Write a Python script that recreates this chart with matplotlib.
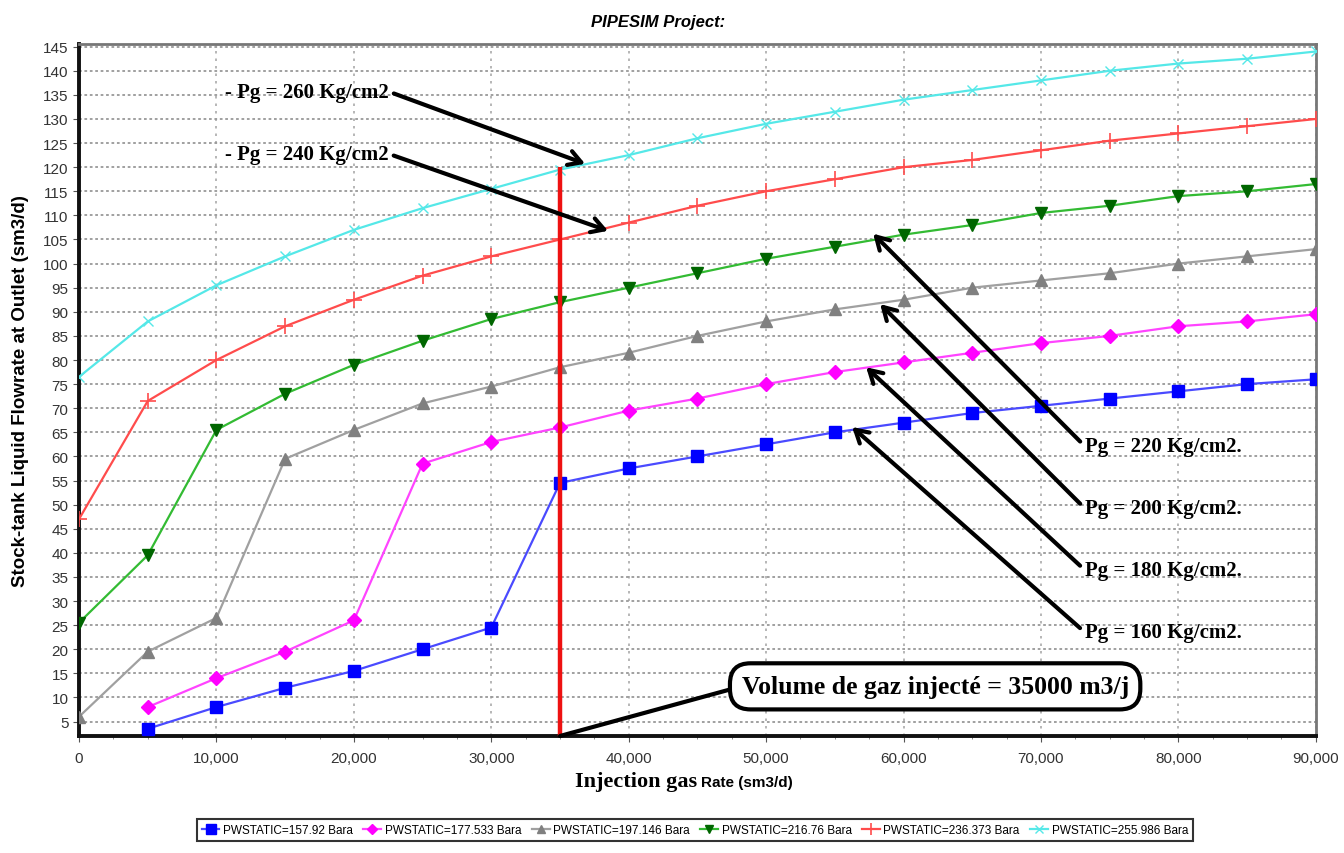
import numpy as np
import matplotlib.pyplot as plt
from matplotlib.ticker import MultipleLocator, FuncFormatter

# injection gas rate (sm3/d)
gas_rate = [0, 5000, 10000, 15000, 20000, 25000, 30000, 35000, 40000, 45000,
            50000, 55000, 60000, 65000, 70000, 75000, 80000, 85000, 90000]

# liquid flowrate (sm3/d) per static pressure, None = no point
q_158 = [None, 3.5, 8, 12, 15.5, 20, 24.5, 54.5, 57.5, 60, 62.5, 65, 67, 69, 70.5, 72, 73.5, 75, 76]
q_178 = [None, 8, 14, 19.5, 26, 58.5, 63, 66, 69.5, 72, 75, 77.5, 79.5, 81.5, 83.5, 85, 87, 88, 89.5]
q_197 = [6, 19.5, 26.5, 59.5, 65.5, 71, 74.5, 78.5, 81.5, 85, 88, 90.5, 92.5, 95, 96.5, 98, 100, 101.5, 103]
q_217 = [25.5, 39.5, 65.5, 73, 79, 84, 88.5, 92, 95, 98, 101, 103.5, 106, 108, 110.5, 112, 114, 115, 116.5]
q_236 = [47, 71.5, 80, 87, 92.5, 97.5, 101.5, 105, 108.5, 112, 115, 117.5, 120, 121.5, 123.5, 125.5, 127, 128.5, 130]
q_256 = [76.5, 88, 95.5, 101.5, 107, 111.5, 115.5, 119.5, 122.5, 126, 129, 131.5, 134, 136, 138, 140, 141.5, 142.5, 144]

labels = ["PWSTATIC=157.92 Bara", "PWSTATIC=177.533 Bara", "PWSTATIC=197.146 Bara",
          "PWSTATIC=216.76 Bara", "PWSTATIC=236.373 Bara", "PWSTATIC=255.986 Bara"]

chosen_rate = 35000
chosen_top = 120

# (label, arrow head x, arrow head y, text x, text y)
pg_right = [("Pg = 220 Kg/cm2.", 57790, 106.2, 73200, 62.1),
            ("Pg = 200 Kg/cm2.", 58300, 91.6, 73200, 49.2),
            ("Pg = 180 Kg/cm2.", 57280, 78.5, 73200, 36.4),
            ("Pg = 160 Kg/cm2.", 56260, 66.1, 73200, 23.5)]
pg_left = [("- Pg = 260 Kg/cm2", 36830, 120.7, 10600, 135.7),
           ("- Pg = 240 Kg/cm2", 38500, 106.8, 10600, 122.8)]

sans = ['Liberation Sans', 'DejaVu Sans']
serif = ['Liberation Serif', 'DejaVu Serif']

fig = plt.figure(figsize=(13.44, 8.54), dpi=100)
ax = fig.add_axes([0.0588, 0.137, 0.9202, 0.81])

def to_arr(v):
    return np.array([np.nan if a is None else a for a in v], dtype=float)

styles = [
    dict(color='#4a4aff', marker='s', ms=9, mfc='#0000ff', mec='#0000ff', lw=1.6),
    dict(color='#ff44ff', marker='D', ms=7, mfc='#ff00ff', mec='#ff00ff', lw=1.6),
    dict(color='#a0a0a0', marker='^', ms=8, mfc='#808080', mec='#808080', lw=1.6),
    dict(color='#33bb33', marker='v', ms=8, mfc='#006600', mec='#006600', lw=1.6),
    dict(color='#ff4c4c', marker='+', ms=11, mew=1.2, lw=1.6),
    dict(color='#55e8e8', marker='x', ms=7, mew=1.0, lw=1.6),
]
series = [q_158, q_178, q_197, q_217, q_236, q_256]
for q, lab, st in zip(series, labels, styles):
    ax.plot(gas_rate, to_arr(q), label=lab, zorder=3, **st)

ax.vlines(chosen_rate, 2, chosen_top, colors='#ee1111', lw=3.2, zorder=4)

ax.set_xlim(0, 90000)
ax.set_ylim(2, 145.5)
ax.xaxis.set_major_locator(MultipleLocator(10000))
ax.xaxis.set_minor_locator(MultipleLocator(2500))
ax.set_yticks(np.arange(5, 146, 5))
ax.xaxis.set_major_formatter(FuncFormatter(lambda v, p: f"{int(v):,}"))
ax.grid(axis='y', which='major', ls=(0, (1.5, 1.5)), color='#999999', lw=1.3)
ax.grid(axis='x', which='major', ls=(0, (1.5, 3)), color='#aaaaaa', lw=1.2)
ax.tick_params(axis='both', which='major', labelsize=11, length=4, color='#555555')
ax.tick_params(axis='x', which='minor', length=2, color='#777777')
for t in ax.get_xticklabels() + ax.get_yticklabels():
    t.set_family(sans)
    t.set_color('#333333')
ax.tick_params(axis='x', pad=7)

for s in ['left', 'bottom']:
    ax.spines[s].set_linewidth(2.8)
    ax.spines[s].set_color('#111111')
for s in ['top', 'right']:
    ax.spines[s].set_linewidth(2)
    ax.spines[s].set_color('#777777')

ax.set_ylabel("Stock-tank Liquid Flowrate at Outlet (sm3/d)", fontsize=13.5,
              fontweight='bold', family=sans, labelpad=10)
ax.text(0.5, -0.051, "Injection gas", transform=ax.transAxes, ha='right', va='top',
        fontsize=16, fontweight='bold', family=serif)
ax.text(0.503, -0.057, "Rate (sm3/d)", transform=ax.transAxes, ha='left', va='top',
        fontsize=11, fontweight='bold', family=sans)
fig.text(0.49, 0.974, "PIPESIM Project:", ha='center', va='center', fontsize=12,
         fontweight='bold', fontstyle='italic', family=sans)

for txt, hx, hy, tx, ty in pg_right:
    ax.annotate(txt, xy=(hx, hy), xytext=(tx, ty), ha='left', va='center',
                fontsize=15, fontweight='bold', family=serif, zorder=6,
                arrowprops=dict(arrowstyle='->,head_length=0.6,head_width=0.35', lw=3,
                                color='black', relpos=(0, 0.5), shrinkA=2, shrinkB=0))
for txt, hx, hy, tx, ty in pg_left:
    ax.annotate(txt, xy=(hx, hy), xytext=(tx, ty), ha='left', va='center',
                fontsize=15, fontweight='bold', family=serif, zorder=6,
                arrowprops=dict(arrowstyle='->,head_length=0.6,head_width=0.35', lw=3,
                                color='black', relpos=(1, 0.5), shrinkA=2, shrinkB=0))

ax.annotate("Volume de gaz injecté = 35000 m3/j", xy=(chosen_rate, 2), xytext=(62300, 12.3),
            ha='center', va='center', fontsize=18.5, fontweight='bold', family=serif, zorder=6,
            bbox=dict(boxstyle='round,pad=0.45,rounding_size=0.8', fc='white', ec='black', lw=3),
            arrowprops=dict(arrowstyle='-', lw=3, color='black', relpos=(0, 0.5),
                            shrinkA=0, shrinkB=0))

leg = fig.legend(loc='center', bbox_to_anchor=(0.517, 0.027), ncol=6,
                 prop={'family': sans, 'size': 8.5}, frameon=True, fancybox=False,
                 handlelength=1.5, columnspacing=0.9, handletextpad=0.3, borderpad=0.4,
                 markerscale=0.8)
leg.get_frame().set_edgecolor('black')
leg.get_frame().set_linewidth(1.5)

fig.savefig('out.png', dpi=100)
